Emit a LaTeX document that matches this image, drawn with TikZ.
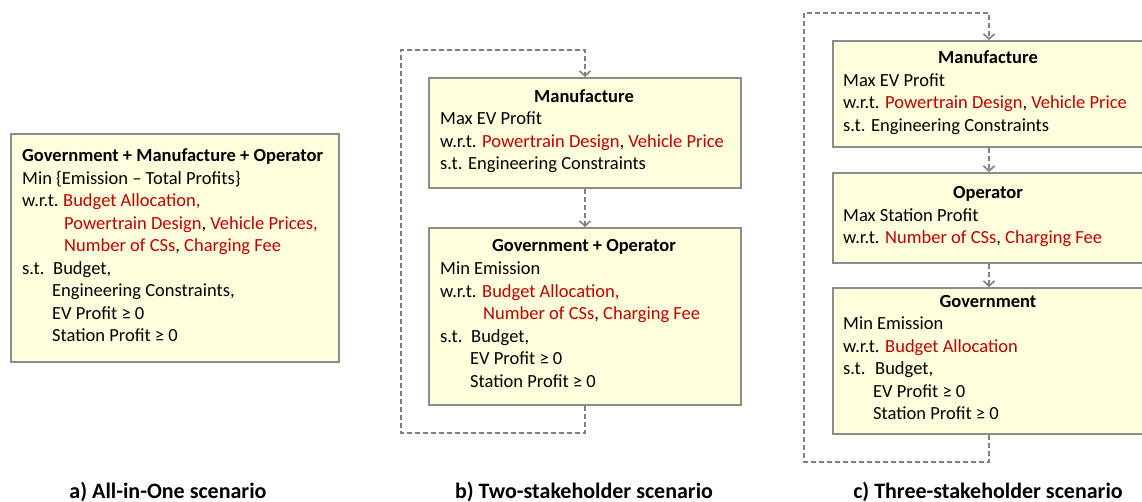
\documentclass[tikz,border=0pt]{standalone}
\usepackage{fontspec}
\setmainfont{Carlito}
\usetikzlibrary{arrows.meta}
\definecolor{boxfill}{RGB}{255,255,221}
\definecolor{boxline}{RGB}{140,140,140}
\definecolor{connline}{RGB}{128,128,128}
\definecolor{redtext}{RGB}{192,0,0}
\newcommand{\rt}[1]{\textcolor{redtext}{#1}}
\begin{document}
\begin{tikzpicture}[x=1pt,y=-1pt,
  box/.style={draw=boxline, line width=2pt, fill=boxfill, anchor=north west, inner sep=0pt},
  txt/.style={anchor=west, inner sep=0pt, font=\fontsize{18.5}{22}\selectfont, text height=13pt, text depth=4pt},
  ttl/.style={anchor=center, inner sep=0pt, font=\fontsize{18.5}{22}\selectfont\bfseries, text height=13pt, text depth=4pt},
  captext/.style={anchor=center, inner sep=0pt, font=\fontsize{22}{24}\selectfont\bfseries},
  conn/.style={draw=connline, line width=1.6pt, dash pattern=on 5pt off 3pt, -{Straight Barb[length=5pt,width=11pt,line width=1.6pt]}}
]
\useasboundingbox (0,0) rectangle (1142,502);

% ---------- a) All-in-One ----------
\node[box, minimum width=328pt, minimum height=228pt] (abox) at (10,133) {};
\node[txt] (a1) at (22,157) {\bfseries Government + Manufacture + Operator};
\node[txt] (a2) at (22,180) {Min \{Emission -- Total Profits\}};
\node[txt] (a3) at (22,202) {w.r.t.};
\node[txt] (a3b) at (63,202) {\rt{Budget Allocation,}};
\node[txt] (a4) at (64,225) {\rt{Powertrain Design}, \rt{Vehicle Prices,}};
\node[txt] (a5) at (64,247) {\rt{Number of CSs}, \rt{Charging Fee}};
\node[txt] (a6) at (22,270) {s.t.};
\node[txt] (a6b) at (53,270) {Budget,};
\node[txt] (a7) at (52,292) {Engineering Constraints,};
\node[txt] (a8) at (52,315) {EV Profit ≥ 0};
\node[txt] (a9) at (52,337) {Station Profit ≥ 0};

% ---------- b) Two-stakeholder ----------
\node[box, minimum width=312pt, minimum height=110pt] (bman) at (428,77) {};
\node[ttl] (b1) at (584,98) {Manufacture};
\node[txt] (b2) at (440,120) {Max EV Profit};
\node[txt] (b3) at (440,143) {w.r.t. \rt{Powertrain Design}, \rt{Vehicle Price}};
\node[txt] (b4) at (440,165) {s.t. Engineering Constraints};

\node[box, minimum width=312pt, minimum height=177pt] (bgov) at (428,227) {};
\node[ttl] (b5) at (584,247) {Government + Operator};
\node[txt] (b6) at (440,270) {Min Emission};
\node[txt] (b7) at (440,293) {w.r.t.};
\node[txt] (b7b) at (482,293) {\rt{Budget Allocation,}};
\node[txt] (b8) at (483,315) {\rt{Number of CSs}, \rt{Charging Fee}};
\node[txt] (b9) at (440,338) {s.t.};
\node[txt] (b9b) at (471,338) {Budget,};
\node[txt] (b10) at (470,360) {EV Profit ≥ 0};
\node[txt] (b11) at (470,383) {Station Profit ≥ 0};

\coordinate (blb) at (401,433);
\coordinate (blt) at (401,50);
\draw[conn] (bman.south) -- (bgov.north);
\draw[conn] (bgov.south) |- (blb) -- (blt) -| (bman.north);

% ---------- c) Three-stakeholder ----------
\node[box, minimum width=312pt, minimum height=106pt] (cman) at (832,40) {};
\node[ttl] (c1) at (988,59) {Manufacture};
\node[txt] (c2) at (843,82) {Max EV Profit};
\node[txt] (c3) at (843,104) {w.r.t. \rt{Powertrain Design}, \rt{Vehicle Price}};
\node[txt] (c4) at (843,127) {s.t. Engineering Constraints};

\node[box, minimum width=312pt, minimum height=90pt] (cop) at (832,172) {};
\node[ttl] (c5) at (988,194) {Operator};
\node[txt] (c6) at (843,217) {Max Station Profit};
\node[txt] (c7) at (843,239) {w.r.t. \rt{Number of CSs}, \rt{Charging Fee}};

\node[box, minimum width=312pt, minimum height=146pt] (cgov) at (832,287) {};
\node[ttl] (c8) at (988,303) {Government};
\node[txt] (c9) at (843,325) {Min Emission};
\node[txt] (c10) at (843,348) {w.r.t. \rt{Budget Allocation}};
\node[txt] (c11) at (843,370) {s.t.};
\node[txt] (c11b) at (875,370) {Budget,};
\node[txt] (c12) at (873,393) {EV Profit ≥ 0};
\node[txt] (c13) at (873,415) {Station Profit ≥ 0};

\coordinate (clb) at (804,462);
\coordinate (clt) at (804,13);
\draw[conn] (cman.south) -- (cop.north);
\draw[conn] (cop.south) -- (cgov.north);
\draw[conn] (cgov.south) |- (clb) -- (clt) -| (cman.north);

% ---------- captions ----------
\node[captext] (capa) at (168,492) {a) All-in-One scenario};
\node[captext] (capb) at (584,492) {b) Two-stakeholder scenario};
\node[captext] (capc) at (988,492) {c) Three-stakeholder scenario};
\end{tikzpicture}
\end{document}
